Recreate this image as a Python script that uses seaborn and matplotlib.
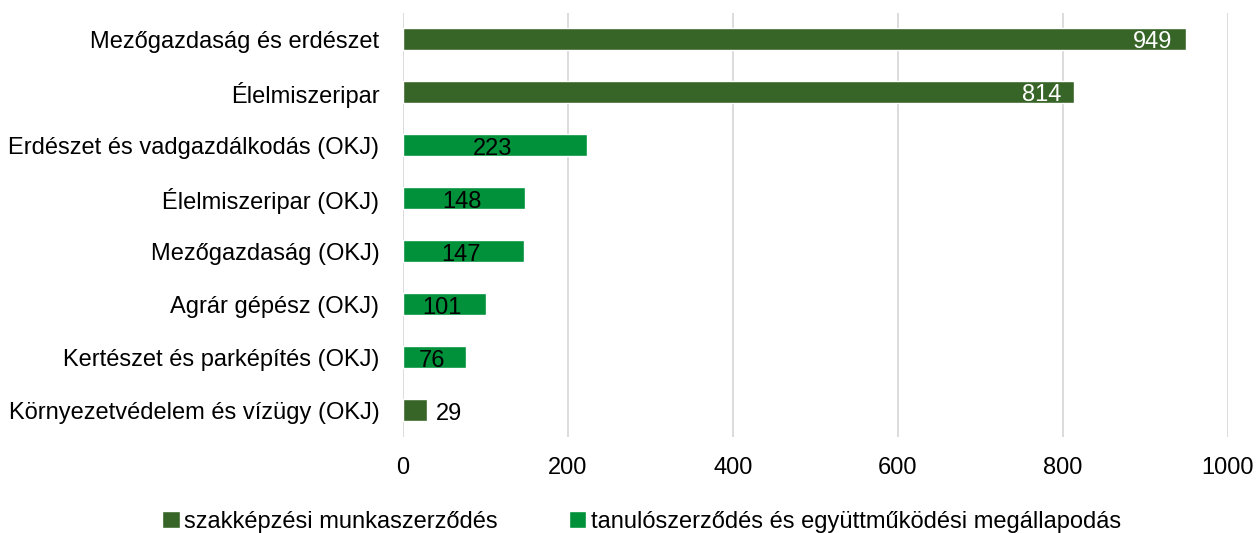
import matplotlib
matplotlib.use("Agg")
import matplotlib.pyplot as plt
import seaborn as sns
import pandas as pd
from matplotlib.patches import Patch

categories = [
    "Mezőgazdaság és erdészet",
    "Élelmiszeripar",
    "Erdészet és vadgazdálkodás (OKJ)",
    "Élelmiszeripar (OKJ)",
    "Mezőgazdaság (OKJ)",
    "Agrár gépész (OKJ)",
    "Kertészet és parképítés (OKJ)",
    "Környezetvédelem és vízügy (OKJ)",
]
values = [949, 814, 223, 148, 147, 101, 76, 29]
kinds = ["szakképzési munkaszerződés"] * 2 + \
        ["tanulószerződés és együttműködési megállapodás"] * 5 + \
        ["szakképzési munkaszerződés"]
legend_order = ["szakképzési munkaszerződés",
                "tanulószerződés és együttműködési megállapodás"]
colors = {"szakképzési munkaszerződés": "#376527",
          "tanulószerződés és együttműködési megállapodás": "#00913a"}

df = pd.DataFrame({"cat": categories, "val": values, "kind": kinds})

sns.set_theme(style="white")
plt.rcParams["font.family"] = ["Liberation Sans", "DejaVu Sans"]
plt.rcParams["text.color"] = "black"

fig = plt.figure(figsize=(12.58, 5.33), dpi=100)
ax = fig.add_axes([0.3203, 0.181, 0.6558, 0.7955])
sns.barplot(data=df, y="cat", x="val", hue="kind", palette=colors,
            dodge=False, width=0.4, legend=False, ax=ax, saturation=1)

ax.set_xlim(0, 1000)
ax.set_xticks(range(0, 1001, 200))
ax.set_ylim(len(categories) - 0.5, -0.5)
ax.grid(axis="x", color="#d9d9d9", linewidth=1.3)
ax.set_axisbelow(True)
for s in ax.spines.values():
    s.set_visible(False)
ax.set_xlabel("")
ax.set_ylabel("")
ax.tick_params(axis="both", length=0, labelsize=17, colors="black")
ax.tick_params(axis="x", pad=15)
ax.tick_params(axis="y", pad=17)

# value labels
for i, (v, k) in enumerate(zip(values, kinds)):
    if v > 500:
        ax.text(v - 40, i + 0.05, str(v), ha="center", va="center",
                color="white", fontsize=17)
    elif k == legend_order[1]:
        ax.text(v / 2 - 3, i + 0.07, str(v), ha="center", va="center",
                color="black", fontsize=17)
    else:
        ax.text(v + 27, i + 0.07, str(v), ha="center", va="center",
                color="black", fontsize=17)

handles = [Patch(facecolor=colors[k], label=k) for k in legend_order]
fig.legend(handles=handles, loc="lower center", bbox_to_anchor=(0.51, -0.04),
           ncol=2, frameon=False, fontsize=17, handlelength=0.75,
           handleheight=0.75, handletextpad=0.2, columnspacing=3.0)

fig.savefig("out.png", dpi=100)
